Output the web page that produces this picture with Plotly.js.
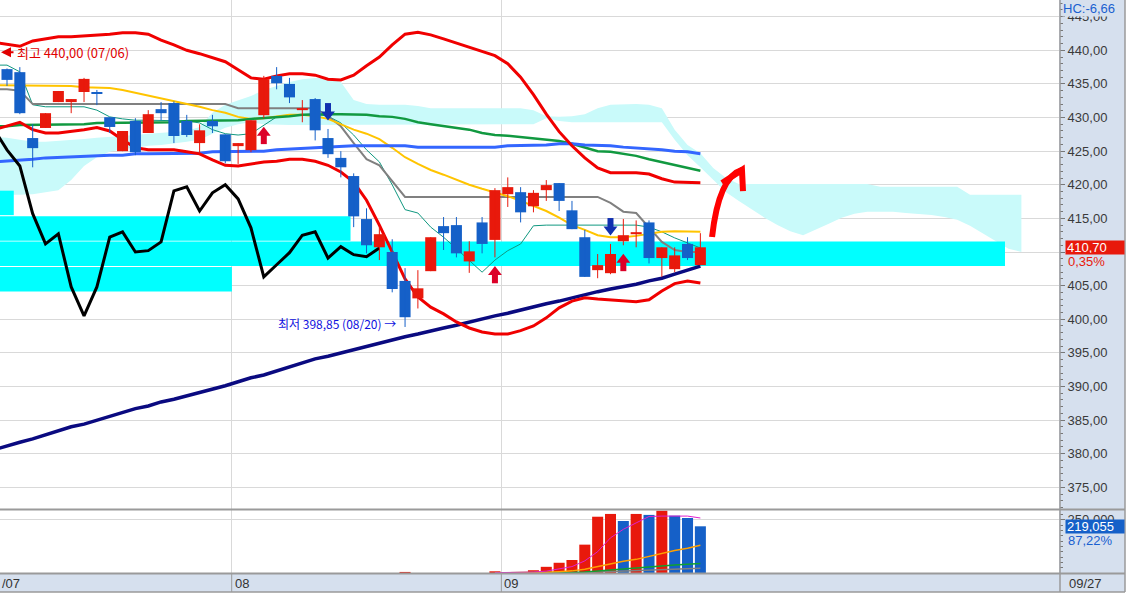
<!DOCTYPE html>
<html>
<head>
<meta charset="utf-8">
<script src="https://cdn.plot.ly/plotly-3.0.1.min.js"></script>
<style>
html,body{margin:0;padding:0;background:#ffffff;overflow:hidden;}
#chart{width:1131px;height:593px;}
</style>
</head>
<body>
<div id="chart"></div>
<script>
// ---------------- candles (index 0..54) ----------------
const openP  = [437.2, 436.75, 426.95, 428.45, 432.3, 432.3, 433.8, 433.8, 430.05, 425.0, 429.5, 427.7, 431.25, 432.15, 429.5, 426.2, 429.5, 427.5, 425.75, 425.15, 430.35, 436.2, 435.0, 431.1, 432.75, 426.95, 424.0, 421.3, 414.9, 410.7, 410.0, 405.7, 403.1, 407.15, 413.85, 414.0, 408.6, 414.4, 411.8, 418.6, 418.9, 416.8, 419.2, 420.25, 416.2, 412.2, 407.3, 406.85, 411.6, 412.65, 414.4, 409.1, 407.45, 411.2, 408.05];
const highP  = [437.3, 437.5, 429.0, 430.65, 433.95, 432.75, 435.9, 434.1, 430.05, 428.0, 429.9, 431.1, 432.3, 432.4, 430.4, 429.0, 430.4, 427.5, 426.2, 429.6, 436.2, 437.5, 435.9, 432.6, 432.9, 428.3, 425.0, 421.7, 416.5, 413.7, 411.9, 407.6, 407.3, 412.2, 415.2, 415.2, 411.6, 415.2, 419.5, 421.1, 419.65, 419.2, 420.7, 420.25, 417.6, 413.3, 409.7, 411.2, 414.9, 414.7, 414.7, 410.7, 410.7, 412.2, 412.8];
const lowP   = [434.7, 430.5, 422.6, 428.45, 432.3, 430.65, 432.3, 431.85, 427.7, 425.0, 424.4, 427.7, 429.6, 426.2, 427.1, 424.7, 427.7, 423.2, 423.1, 424.85, 429.9, 434.2, 432.15, 429.3, 426.6, 424.0, 421.1, 413.7, 409.8, 408.8, 404.0, 398.85, 401.6, 407.15, 410.3, 409.2, 406.9, 409.8, 409.2, 416.7, 414.4, 415.9, 417.6, 416.1, 413.4, 406.3, 406.1, 406.7, 411.0, 410.7, 408.3, 406.3, 407.0, 408.8, 408.05];
const closeP = [435.6, 430.65, 425.45, 430.65, 433.95, 432.75, 435.75, 433.5, 428.6, 428.0, 424.85, 430.5, 430.65, 427.25, 427.4, 428.1, 428.7, 423.5, 426.2, 429.6, 435.7, 435.1, 433.0, 431.4, 428.1, 424.55, 422.6, 415.3, 411.0, 412.65, 404.5, 400.3, 404.6, 412.2, 412.8, 409.8, 410.1, 411.2, 419.2, 419.65, 415.9, 418.8, 419.95, 417.6, 413.4, 406.3, 408.05, 409.7, 412.5, 412.95, 409.1, 410.7, 409.5, 409.1, 410.7];
const volume = [0,0,0,0,0,0,0,0,0,0, 0,0,0,0,0,0,0,0,0,0, 0,0,0,0,0,0,0,0,0,0, 0, 5000, 0, 0,0,0,0,0, 8000, 1000, 1000, 13000, 29000, 48000, 61000, 133000, 264000, 277000, 244000, 277000, 272500, 292000, 269000, 258000, 219055];

// month boundaries (first candle index of each month)
const monthFirstIdx = [18, 39];
const monthLabels = ['08', '09'];
const leftMonthLabel = '/07';
const lastDateLabel = '09/27';

// ---------------- indicator lines (index -1..54) ----------------
const bbUpper = [441.2, 440.9, 440.6, 441.4, 441.7, 442.0, 442.0, 442.1, 442.3, 442.4, 442.6, 442.6, 442.4, 441.5, 440.8, 440.0, 439.5, 438.9, 438.3, 437.1, 435.9, 435.7, 436.2, 436.5, 436.5, 436.3, 435.7, 435.6, 436.3, 437.7, 439.0, 440.8, 442.4, 442.7, 442.3, 441.7, 441.1, 440.5, 439.9, 439.2, 438.0, 436.0, 433.4, 430.5, 427.9, 425.8, 424.0, 422.5, 421.8, 421.8, 421.8, 421.6, 420.9, 420.4, 420.4, 420.3];
const bbLower = [428.2, 428.7, 429.3, 428.2, 427.7, 427.7, 427.9, 428.2, 428.5, 428.0, 426.7, 425.5, 425.2, 425.2, 425.2, 424.9, 424.6, 423.7, 422.9, 422.8, 423.1, 423.4, 423.5, 423.8, 423.8, 423.5, 422.9, 421.9, 420.4, 417.7, 414.0, 410.0, 406.0, 403.3, 401.8, 400.8, 399.6, 398.7, 398.1, 397.8, 397.8, 398.3, 399.0, 400.2, 401.7, 402.7, 403.2, 403.0, 402.9, 402.7, 402.6, 402.9, 404.2, 405.3, 405.7, 405.4];
const ma20 = [434.8, 434.8, 434.8, 434.8, 434.8, 434.7, 434.7, 434.5, 434.5, 434.4, 434.1, 433.7, 433.2, 432.8, 432.5, 432.0, 431.6, 431.1, 430.7, 430.1, 429.8, 429.9, 430.2, 430.4, 430.4, 430.2, 429.8, 429.0, 428.2, 427.6, 426.8, 425.5, 424.1, 423.1, 422.2, 421.5, 420.7, 420.0, 419.4, 418.9, 418.3, 417.6, 416.8, 416.1, 415.1, 414.0, 413.3, 412.5, 412.2, 412.2, 412.4, 412.7, 413.0, 413.1, 413.1, 413.0];
const maBlue = [423.4, 423.5, 423.7, 423.8, 424.0, 424.1, 424.1, 424.3, 424.3, 424.4, 424.4, 424.6, 424.6, 424.6, 424.7, 424.7, 424.7, 424.9, 424.9, 425.0, 425.0, 425.0, 425.2, 425.3, 425.5, 425.6, 425.6, 425.8, 425.8, 425.8, 425.8, 425.8, 425.8, 425.6, 425.6, 425.6, 425.6, 425.6, 425.6, 425.6, 425.8, 425.8, 425.9, 425.9, 426.1, 426.1, 425.9, 425.9, 425.8, 425.6, 425.5, 425.3, 425.2, 425.0, 424.9, 424.6];
const maGreen = [428.7, 428.7, 428.9, 428.9, 429.0, 429.0, 429.0, 429.0, 429.2, 429.2, 429.2, 429.3, 429.3, 429.3, 429.3, 429.5, 429.5, 429.5, 429.5, 429.6, 429.8, 429.9, 430.1, 430.2, 430.4, 430.5, 430.5, 430.5, 430.5, 430.4, 430.2, 430.1, 429.8, 429.3, 429.0, 428.7, 428.5, 428.2, 427.7, 427.4, 427.3, 427.1, 427.0, 426.7, 426.5, 426.1, 425.6, 425.0, 424.9, 424.6, 424.3, 423.8, 423.4, 422.9, 422.5, 422.1];
const kijun = [434.2, 434.2, 434.0, 432.0, 432.0, 432.0, 432.0, 432.0, 432.0, 432.0, 432.0, 432.0, 432.0, 432.0, 432.0, 432.0, 432.0, 432.0, 432.0, 431.4, 431.4, 431.4, 431.4, 431.4, 431.4, 431.4, 430.2, 428.7, 426.2, 423.8, 422.9, 420.6, 418.2, 418.2, 418.2, 418.2, 418.2, 418.2, 418.2, 418.2, 418.2, 418.2, 418.2, 418.2, 418.2, 418.2, 418.2, 418.2, 417.3, 416.0, 415.8, 413.7, 411.5, 410.3, 410.0, 410.0];
const tenkan = [437.8, 437.8, 436.8, 431.9, 431.6, 431.6, 431.6, 431.6, 431.1, 430.1, 429.8, 429.6, 429.6, 429.6, 429.6, 429.5, 429.2, 428.2, 427.6, 427.4, 427.6, 428.9, 430.1, 430.4, 430.5, 430.5, 430.2, 429.2, 427.4, 425.2, 423.4, 420.0, 416.3, 415.8, 413.7, 412.2, 410.5, 408.7, 407.0, 408.8, 410.2, 411.2, 413.9, 414.0, 414.0, 414.0, 414.0, 414.0, 414.0, 414.0, 414.0, 413.7, 413.0, 412.1, 411.3, 410.6];
const maNavy = [380.6, 381.2, 381.7, 382.2, 382.8, 383.4, 384.0, 384.4, 385.0, 385.6, 386.1, 386.7, 387.1, 387.7, 388.1, 388.6, 389.0, 389.5, 390.1, 390.7, 391.3, 391.7, 392.3, 392.9, 393.5, 394.1, 394.5, 395.0, 395.4, 395.9, 396.5, 396.9, 397.4, 397.8, 398.3, 398.7, 399.1, 399.6, 400.0, 400.5, 400.9, 401.4, 401.8, 402.3, 402.7, 403.2, 403.6, 404.1, 404.5, 404.8, 405.2, 405.7, 406.1, 406.7, 407.3, 407.9];
// overlay (black) line, index -1..29
const overlayLine = [428.2, 425.2, 422.8, 415.7, 411.2, 412.7, 404.8, 400.5, 404.8, 412.2, 413.0, 410.0, 410.2, 411.5, 419.1, 419.7, 416.1, 418.8, 420.0, 417.9, 413.6, 406.3, 408.1, 409.9, 412.5, 413.0, 409.1, 410.8, 409.6, 409.3, 410.6];

// ---------------- ichimoku cloud (index -1..79) ----------------
const cloudUpper = [427.1, 427.0, 426.7, 426.4, 426.4, 426.5, 426.7, 426.8, 427.0, 427.1, 427.3, 427.4, 427.6, 427.7, 427.9, 428.0, 428.6, 430.7, 431.9, 432.6, 433.2, 434.1, 434.7, 435.3, 435.7, 435.9, 435.9, 435.3, 432.6, 432.0, 431.9, 431.9, 431.9, 431.7, 431.4, 431.4, 431.4, 431.4, 431.4, 431.4, 431.4, 431.4, 431.1, 430.2, 430.1, 430.2, 430.5, 431.4, 431.9, 432.0, 432.0, 431.9, 431.4, 428.2, 425.9, 424.7, 422.5, 421.0, 420.1, 420.1, 420.1, 420.1, 420.1, 420.1, 420.1, 420.1, 420.1, 420.1, 420.1, 419.7, 419.7, 419.7, 419.7, 419.7, 419.7, 419.7, 418.5, 418.5, 418.5, 418.5, 418.5];
const cloudLower = [418.3, 418.5, 418.5, 418.6, 418.9, 419.2, 420.7, 422.8, 424.1, 424.9, 425.3, 425.6, 425.8, 425.9, 426.1, 426.4, 426.7, 427.6, 428.5, 429.0, 429.3, 429.0, 428.9, 428.9, 428.9, 428.9, 428.9, 428.9, 428.9, 428.9, 428.9, 428.9, 428.9, 428.9, 428.9, 428.9, 428.9, 428.9, 428.9, 428.9, 428.9, 428.9, 429.0, 429.9, 429.5, 429.3, 429.3, 429.3, 429.3, 429.3, 429.3, 429.3, 429.3, 426.7, 424.4, 422.6, 420.7, 418.9, 417.6, 416.3, 415.1, 414.0, 413.1, 412.5, 413.3, 414.2, 415.1, 415.7, 416.0, 416.0, 416.0, 415.8, 415.7, 415.5, 415.2, 414.8, 413.9, 412.8, 411.6, 410.5, 410.0];

// ---------------- price-by-volume bands ----------------
const pbvPrice = [417.3, 413.5, 409.75, 405.95];
const pbvVolume = [1.3, 33.1, 94.9, 21.9];

// ---------------- volume moving averages (from index 38) ----------------
const volMaStartIdx = 38;
const volMa5   = [1600, 1800, 2000, 4600, 8800, 18000, 30000, 57000, 100000, 165000, 205000, 235000, 265000, 267000, 268000, 267000, 258000];
const volMa20  = [800, 900, 1000, 1800, 3300, 6000, 10000, 18000, 31000, 45000, 55000, 64000, 78000, 92000, 106000, 116000, 130000];
const volMa60  = [300, 400, 500, 700, 1200, 2000, 3000, 5000, 10000, 14000, 18000, 23000, 27000, 32000, 37000, 41000, 45000];
const volMa120 = [200, 250, 300, 400, 600, 1000, 1500, 2500, 5000, 7000, 9000, 11500, 14000, 16000, 18500, 20500, 22500];

// ---------------- signals & labels ----------------
const buyIdx = [20, 38, 48];
const sellIdx = [25, 47];
const periodHigh = 440.00, periodHighDate = '07/06';
const periodLowDate = '08/20';
const hcValue = -6.66;
const changePct = 0.35;
const volRatioPct = 87.22;
const priceTicks = [375, 380, 385, 390, 395, 400, 405, 410, 415, 420, 425, 430, 435, 440, 445];
const volTicks = [250000];

// ================= build =================
const RED = '#e8190c', BLUE = '#1560c8';
const FONT = "'Liberation Sans Narrow','Liberation Sans',Arial,sans-serif";
const KFONT = "'Noto Sans CJK KR','Noto Sans',sans-serif";
const X_RANGE = [-0.545, 81.93];
const Y_RANGE = [371.774, 447.484];
const V_RANGE = [0, 295500];
const PX = (Y_RANGE[1] - Y_RANGE[0]) / 509; // price units per pixel
const fmt2 = v => v.toFixed(2).replace('.', ',');
const fmtInt = v => Math.round(v).toString().replace(/\B(?=(\d{3})+(?!\d))/g, ',');

const idx = openP.map((_, i) => i);
const lineIdx = [-1].concat(idx);
const cloudIdx = cloudUpper.map((_, i) => i - 1);
const volMaIdx = volMa5.map((_, i) => i + volMaStartIdx);
const lastIdx = idx.length - 1;

const traces = [];
// cloud (bottom layer)
traces.push({x: cloudIdx, y: cloudLower, mode: 'lines', line: {width: 0, color: 'rgba(0,0,0,0)'}, xaxis: 'x', yaxis: 'y', hoverinfo: 'skip'});
traces.push({x: cloudIdx, y: cloudUpper, mode: 'lines', line: {width: 0, color: 'rgba(0,0,0,0)'}, fill: 'tonexty', fillcolor: '#c9fafa', xaxis: 'x', yaxis: 'y', hoverinfo: 'skip'});
// price by volume
traces.push({type: 'bar', orientation: 'h', x: pbvVolume, y: pbvPrice, width: 3.64, marker: {color: '#00ffff', line: {width: 0}}, xaxis: 'x2', yaxis: 'y', hoverinfo: 'skip'});

// indicator lines
function ln(xs, ys, color, width) {
  return {x: xs, y: ys, mode: 'lines', line: {color: color, width: width}, xaxis: 'x3', yaxis: 'y3', hoverinfo: 'skip'};
}
traces.push(ln(lineIdx, tenkan, '#109880', 1));
traces.push(ln(lineIdx, kijun, '#808080', 2));
traces.push(ln(lineIdx, ma20, '#ffc400', 2));
traces.push(ln(lineIdx, maGreen, '#119940', 2.5));
traces.push(ln(lineIdx, maBlue, '#3366ff', 3));
traces.push(ln(lineIdx, maNavy, '#0a0a80', 3.5));
traces.push(ln(overlayLine.map((_, i) => i - 1), overlayLine, '#000000', 3));
traces.push(ln(lineIdx, bbUpper, '#f00000', 3));
traces.push(ln(lineIdx, bbLower, '#f00000', 3));

// candle bodies
const isUp = idx.map(i => closeP[i] >= openP[i]);
traces.push({
  type: 'bar', x: idx,
  y: idx.map(i => Math.max(Math.abs(closeP[i] - openP[i]), 0.3)),
  base: idx.map(i => Math.min(openP[i], closeP[i])),
  width: 0.86,
  marker: {color: idx.map(i => isUp[i] ? RED : BLUE), line: {width: 0}},
  xaxis: 'x4', yaxis: 'y4', hoverinfo: 'skip'
});
function wicks(up) {
  const xs = [], ys = [];
  idx.forEach(i => { if (isUp[i] === up) { xs.push(i, i, null); ys.push(lowP[i], highP[i], null); } });
  return {x: xs, y: ys, mode: 'lines', line: {color: up ? RED : BLUE, width: 1}, xaxis: 'x4', yaxis: 'y4', hoverinfo: 'skip'};
}
traces.push(wicks(true));
traces.push(wicks(false));
// signal arrows
const BUYC = '#dc0028', SELLC = '#1030b0';
traces.push({x: buyIdx, y: buyIdx.map(i => lowP[i] - 21 * PX), mode: 'markers', marker: {symbol: 'line-ns', size: 7, line: {width: 6, color: BUYC}}, xaxis: 'x4', yaxis: 'y4', hoverinfo: 'skip'});
traces.push({x: buyIdx, y: buyIdx.map(i => lowP[i] - 14.5 * PX), mode: 'markers', marker: {symbol: 'triangle-up', size: 12, color: BUYC, line: {width: 0}}, xaxis: 'x4', yaxis: 'y4', hoverinfo: 'skip'});
traces.push({x: sellIdx, y: sellIdx.map(i => highP[i] + 21 * PX), mode: 'markers', marker: {symbol: 'line-ns', size: 7, line: {width: 6, color: SELLC}}, xaxis: 'x4', yaxis: 'y4', hoverinfo: 'skip'});
traces.push({x: sellIdx, y: sellIdx.map(i => highP[i] + 14.5 * PX), mode: 'markers', marker: {symbol: 'triangle-down', size: 12, color: SELLC, line: {width: 0}}, xaxis: 'x4', yaxis: 'y4', hoverinfo: 'skip'});

// volume
traces.push({type: 'bar', x: idx, y: volume, width: 0.86,
  marker: {color: idx.map(i => (i > 0 && volume[i] > volume[i - 1]) || (i === 0 && volume[i] > 0) ? RED : BLUE), line: {width: 0}},
  xaxis: 'x', yaxis: 'y2', hoverinfo: 'skip'});
function vl(ys, color, w) { return {x: volMaIdx, y: ys, mode: 'lines', line: {color: color, width: w}, xaxis: 'x', yaxis: 'y2', hoverinfo: 'skip'}; }
traces.push(vl(volMa120, '#808080', 1.5));
traces.push(vl(volMa60, '#10a030', 1.5));
traces.push(vl(volMa20, '#ffa000', 1.5));
traces.push(vl(volMa5, '#e020d0', 1));

// ---------- layout ----------
const H = 573; // plot area height (px)
const pY = px => (H - px) / H; // pixel row -> paper y
const pX = px => px / 1059;    // pixel col -> paper x
const GRID = '#d9d9d9', FRAME = '#9a9a9a', STRIP = '#d6e0ee';
const lowIdx = lowP.indexOf(Math.min.apply(null, lowP));
// the last-price box covers the tick label nearest the last close
const coveredTick = priceTicks.reduce((a, b) => Math.abs(b - closeP[lastIdx]) < Math.abs(a - closeP[lastIdx]) ? b : a);

const shapes = [
  {type: 'rect', xref: 'paper', yref: 'paper', x0: 1, x1: pX(1125), y0: pY(592), y1: 1, fillcolor: STRIP, line: {width: 0}, layer: 'below'},
  {type: 'rect', xref: 'paper', yref: 'paper', x0: 0, x1: pX(1125), y0: pY(592), y1: pY(574), fillcolor: STRIP, line: {width: 0}, layer: 'below'},
  {type: 'line', xref: 'paper', yref: 'paper', x0: 0, x1: pX(1125), y0: pY(509.5), y1: pY(509.5), line: {color: FRAME, width: 2}},
  {type: 'line', xref: 'paper', yref: 'paper', x0: 0, x1: pX(1125), y0: pY(573.5), y1: pY(573.5), line: {color: FRAME, width: 2}},
  {type: 'line', xref: 'paper', yref: 'paper', x0: 0, x1: pX(1125), y0: pY(592), y1: pY(592), line: {color: FRAME, width: 1.5}},
  {type: 'line', xref: 'paper', yref: 'paper', x0: pX(1060), x1: pX(1060), y0: pY(592), y1: 1, line: {color: FRAME, width: 1.5}},
  {type: 'line', xref: 'paper', yref: 'paper', x0: pX(1125), x1: pX(1125), y0: pY(592), y1: 1, line: {color: FRAME, width: 1.5}},
  // hand-drawn red arrow
  {type: 'path', xref: 'x', yref: 'y', path: 'M54.91,412.23 Q55.44,421.18 57.24,422.2', line: {color: '#ff0000', width: 6}},
  {type: 'path', xref: 'x', yref: 'y', path: 'M55.69,420.27 L57.24,422.2 L57.32,419.07', line: {color: '#ff0000', width: 6}}
];
monthFirstIdx.forEach(m => shapes.push({type: 'line', xref: 'x', yref: 'paper', x0: m - 0.5, x1: m - 0.5, y0: pY(592), y1: pY(574), line: {color: FRAME, width: 1}}));

const annotations = [
  {xref: 'paper', yref: 'paper', x: pX(1062), y: 1, xanchor: 'left', yanchor: 'top', text: 'HC:' + fmt2(hcValue), showarrow: false, font: {family: FONT, size: 13, color: '#1a5fd0'}, bgcolor: STRIP, borderpad: 0},
  {xref: 'paper', yref: 'y', x: pX(1065), y: closeP[lastIdx], xanchor: 'left', yanchor: 'middle', text: fmt2(closeP[lastIdx]), showarrow: false, font: {family: FONT, size: 13, color: '#ffffff'}, bgcolor: RED, width: 56, height: 11, align: 'left', borderpad: 1},
  {xref: 'paper', yref: 'y', x: pX(1066), y: closeP[lastIdx], yshift: -14, xanchor: 'left', yanchor: 'middle', text: fmt2(changePct) + '%', showarrow: false, font: {family: FONT, size: 13, color: RED}},
  {xref: 'paper', yref: 'y2', x: pX(1065), y: volume[lastIdx], xanchor: 'left', yanchor: 'middle', text: fmtInt(volume[lastIdx]), showarrow: false, font: {family: FONT, size: 13, color: '#ffffff'}, bgcolor: BLUE, width: 56, height: 11, align: 'left', borderpad: 1},
  {xref: 'paper', yref: 'y2', x: pX(1066), y: volume[lastIdx], yshift: -14, xanchor: 'left', yanchor: 'middle', text: fmt2(volRatioPct) + '%', showarrow: false, font: {family: FONT, size: 13, color: '#1a5fd0'}},
  // period high label with arrow pointing left
  {xref: 'paper', yref: 'y', x: 0, y: periodHigh, xanchor: 'left', yanchor: 'middle', xshift: 15, yshift: -2, text: '최고 ' + fmt2(periodHigh) + ' (' + periodHighDate + ')', showarrow: false, font: {family: KFONT, size: 13, color: '#e00000'}},
  {xref: 'paper', yref: 'y', x: pX(1), y: periodHigh, yshift: -2, text: '', showarrow: true, arrowhead: 2, arrowsize: 1, arrowwidth: 2, arrowcolor: '#e00000', ax: 14, ay: 0, standoff: 0},
  // period low label
  {xref: 'x', yref: 'y', x: lowIdx, y: lowP[lowIdx], xanchor: 'right', yanchor: 'middle', xshift: -7, yshift: 3, text: '최저 ' + fmt2(lowP[lowIdx]) + ' (' + periodLowDate + ') →', showarrow: false, font: {family: KFONT, size: 12, color: '#1010e0'}},
  {xref: 'paper', yref: 'paper', x: 0, y: pY(583), xanchor: 'left', yanchor: 'middle', text: leftMonthLabel, showarrow: false, font: {family: FONT, size: 13, color: '#333333'}},
  {xref: 'paper', yref: 'paper', x: pX(1067), y: pY(583), xanchor: 'left', yanchor: 'middle', text: lastDateLabel, showarrow: false, font: {family: FONT, size: 13, color: '#333333'}}
];
monthFirstIdx.forEach((m, k) => annotations.push({xref: 'x', yref: 'paper', x: m - 0.5, y: pY(583), xanchor: 'left', yanchor: 'middle', xshift: 1, text: monthLabels[k], showarrow: false, font: {family: FONT, size: 13, color: '#333333'}}));

const hidden = {visible: false, fixedrange: true, showgrid: false, zeroline: false};
const layout = {
  width: 1131, height: 593,
  margin: {l: 0, r: 72, t: 0, b: 20, pad: 0},
  paper_bgcolor: '#ffffff', plot_bgcolor: '#ffffff',
  showlegend: false, barmode: 'overlay', hovermode: false, dragmode: false,
  xaxis: {domain: [0, 1], range: X_RANGE, anchor: 'y2', tickmode: 'array', tickvals: monthFirstIdx.map(m => m - 0.5), showticklabels: false, ticks: '', showgrid: true, gridcolor: GRID, gridwidth: 1, zeroline: false, showline: false, fixedrange: true},
  yaxis: {domain: [pY(509), 1], range: Y_RANGE, side: 'right', anchor: 'x', tickmode: 'array', tickvals: priceTicks,
    ticktext: priceTicks.map(t => t === coveredTick ? '' : fmt2(t)),
    ticks: 'outside', ticklen: 5, tickwidth: 1, tickcolor: '#777777',
    minor: {tickmode: 'linear', tick0: 0, dtick: 1, ticks: 'outside', ticklen: 3, tickcolor: '#777777', showgrid: false},
    showgrid: true, gridcolor: GRID, gridwidth: 1, zeroline: false, showline: false,
    tickfont: {family: FONT, size: 13, color: '#3a3a3a'}, fixedrange: true},
  yaxis2: {domain: [0, pY(510)], range: V_RANGE, side: 'right', anchor: 'x', tickmode: 'array', tickvals: volTicks, ticktext: volTicks.map(fmtInt),
    ticks: 'outside', ticklen: 5, tickwidth: 1, tickcolor: '#777777',
    minor: {tickmode: 'linear', tick0: 0, dtick: 25000, ticks: 'outside', ticklen: 3, tickcolor: '#777777', showgrid: false},
    showgrid: true, gridcolor: GRID, zeroline: false, showline: false,
    tickfont: {family: FONT, size: 13, color: '#3a3a3a'}, fixedrange: true},
  xaxis2: Object.assign({overlaying: 'x', range: [0, 100], anchor: 'y'}, hidden),
  xaxis3: Object.assign({overlaying: 'x', range: X_RANGE, anchor: 'y3'}, hidden),
  yaxis3: Object.assign({overlaying: 'y', range: Y_RANGE, anchor: 'x3'}, hidden),
  xaxis4: Object.assign({overlaying: 'x', range: X_RANGE, anchor: 'y4'}, hidden),
  yaxis4: Object.assign({overlaying: 'y', range: Y_RANGE, anchor: 'x4'}, hidden),
  shapes: shapes,
  annotations: annotations
};

Plotly.newPlot('chart', traces, layout, {staticPlot: true, displayModeBar: false, responsive: false});
</script>
</body>
</html>
